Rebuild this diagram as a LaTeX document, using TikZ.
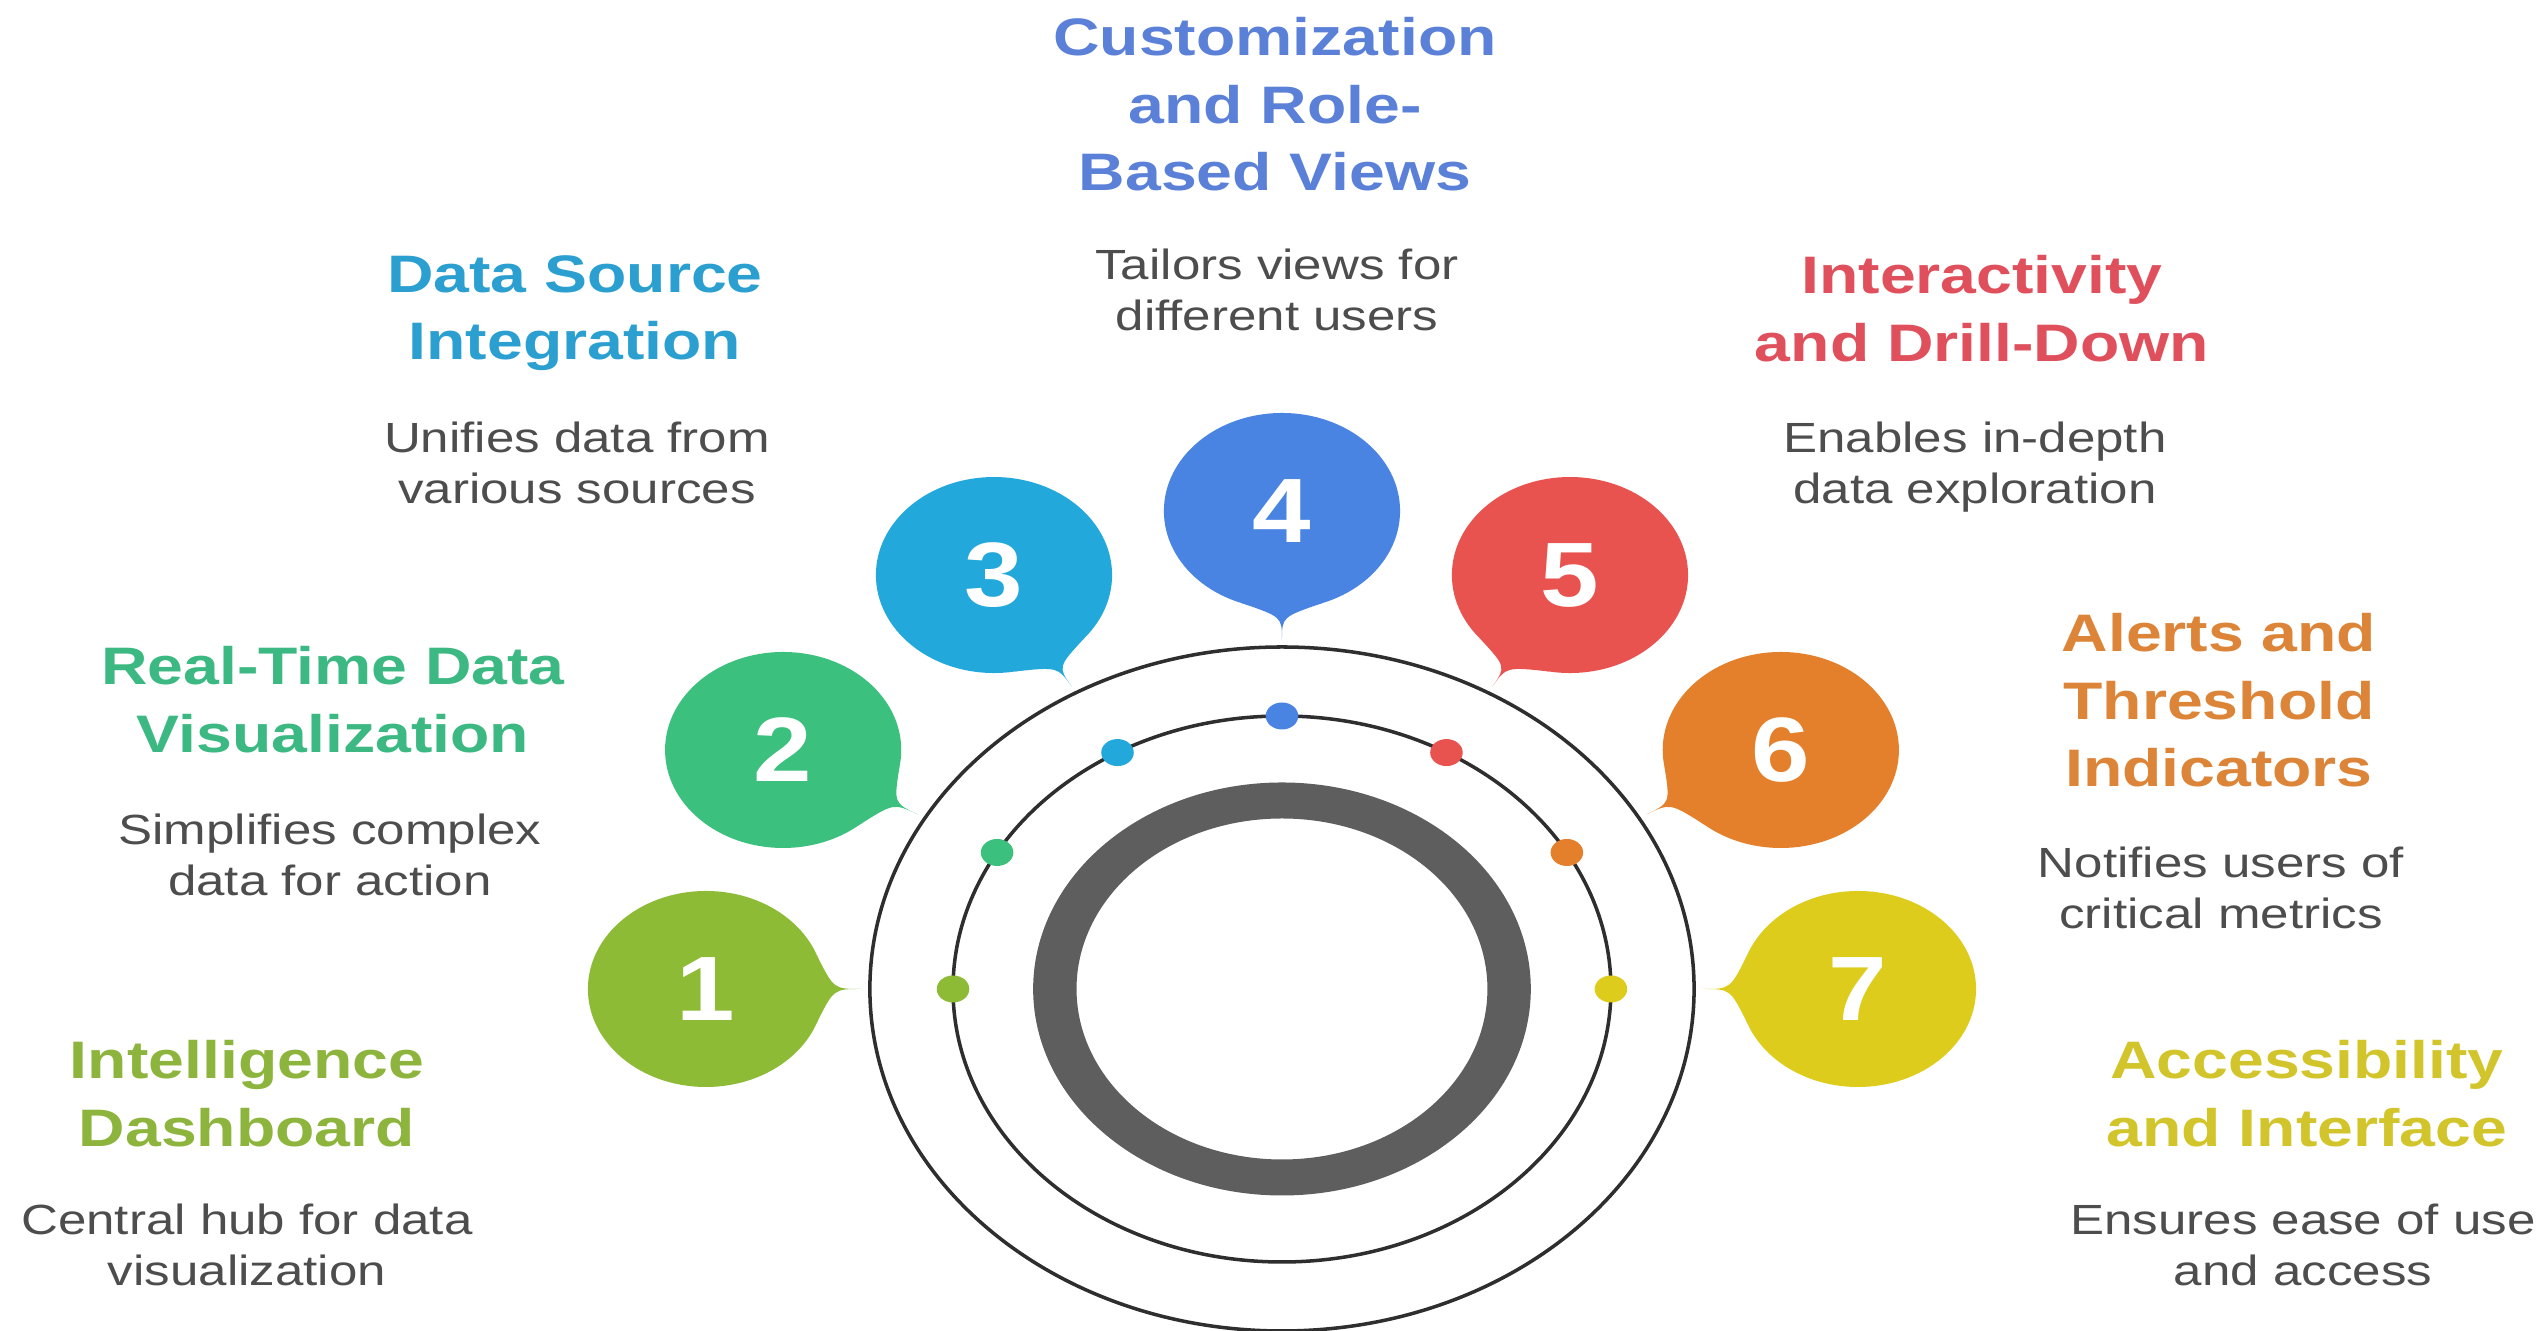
\documentclass[tikz,border=0pt]{standalone}
\usepackage{fontspec}
\setmainfont{Liberation Sans}
\newfontfamily\titlefont[FakeStretch=1.22]{Liberation Sans}
\newfontfamily\descfont[FakeStretch=1.21]{Liberation Sans}
\newfontfamily\numfont[FakeStretch=1.15]{Liberation Sans}
\usetikzlibrary{calc}
\definecolor{b1}{HTML}{8DBB35}
\definecolor{b2}{HTML}{3CC07E}
\definecolor{b3}{HTML}{22A8DB}
\definecolor{b4}{HTML}{4A84E3}
\definecolor{b5}{HTML}{E8524F}
\definecolor{b6}{HTML}{E47F2B}
\definecolor{b7}{HTML}{DECC1C}
\definecolor{t1}{HTML}{8DB43C}
\definecolor{t2}{HTML}{3CB882}
\definecolor{t3}{HTML}{2B9FD0}
\definecolor{t4}{HTML}{5B80D8}
\definecolor{t5}{HTML}{E0505C}
\definecolor{t6}{HTML}{DC8438}
\definecolor{t7}{HTML}{D2C52C}
\definecolor{descgray}{HTML}{4D4D4D}
\definecolor{ringgray}{HTML}{5E5E5E}
\definecolor{linegray}{HTML}{2E2E2E}
\tikzset{
  titletxt/.style={font={\titlefont\bfseries\fontsize{15pt}{19.1pt}\selectfont}, align=center, inner sep=0pt, anchor=north},
  desctxt/.style={font={\descfont\fontsize{12pt}{14.5pt}\selectfont}, text=descgray, align=center, inner sep=0pt, anchor=north},
  numtxt/.style={font={\numfont\bfseries\fontsize{26pt}{26pt}\selectfont}, text=white, inner sep=0pt},
  ringline/.style={draw=linegray, line width=1pt},
}
\begin{document}
\begin{tikzpicture}[x=0.01cm,y=0.01cm]
\useasboundingbox (-1282,-342) rectangle (1265,989);
\fill[white] (-1282,-342) rectangle (1265,989);

\begin{scope}[xscale=1.205]
  % rings
  \draw[ringline] (0,0) circle[radius=342];
  \draw[ringline] (0,0) circle[radius=273];
  \fill[ringgray, even odd rule] (0,0) circle[radius=206.5] (0,0) circle[radius=170.5];
  % dots and bubbles
  \foreach \k/\col in {1/b1,2/b2,3/b3,4/b4,5/b5,6/b6,7/b7} {
    \pgfmathsetmacro\ang{210-30*\k}
    \fill[\col] (\ang:273) circle[radius=13.5];
    \fill[\col] (\ang:478) circle[radius=98];
    \fill[\col] ($(\ang:478)+(\ang+200:98)$)
      .. controls (\ang:372) .. (\ang:349)
      .. controls (\ang:372) .. ($(\ang:478)+(\ang+160:98)$) -- cycle;
    \node[numtxt] (n\k) at (\ang:478) {\k};
  }
\end{scope}

% titles and descriptions
\node[titletxt, text=t4] (title4) at (-7,972) {Customization\\and Role-\\Based Views};
\node[desctxt] (desc4) at (-5,741) {Tailors views for\\different users};

\node[titletxt, text=t3] (title3) at (-707,734) {Data Source\\Integration};
\node[desctxt] (desc3) at (-705,568) {Unifies data from\\various sources};

\node[titletxt, text=t5] (title5) at (700,734) {Interactivity\\and Drill-Down};
\node[desctxt] (desc5) at (693,568) {Enables in-depth\\data exploration};

\node[titletxt, text=t2] (title2) at (-949,343) {Real-Time Data\\Visualization};
\node[desctxt] (desc2) at (-952,176) {Simplifies complex\\data for action};

\node[titletxt, text=t6] (title6) at (937,376) {Alerts and\\Threshold\\Indicators};
\node[desctxt] (desc6) at (939,143) {Notifies users of\\critical metrics};

\node[titletxt, text=t1] (title1) at (-1035,-51) {Intelligence\\Dashboard};
\node[desctxt] (desc1) at (-1035,-214) {Central hub for data\\visualization};

\node[titletxt, text=t7] (title7) at (1025,-51) {Accessibility\\and Interface};
\node[desctxt] (desc7) at (1021,-214) {Ensures ease of use\\and access};
\end{tikzpicture}
\end{document}
